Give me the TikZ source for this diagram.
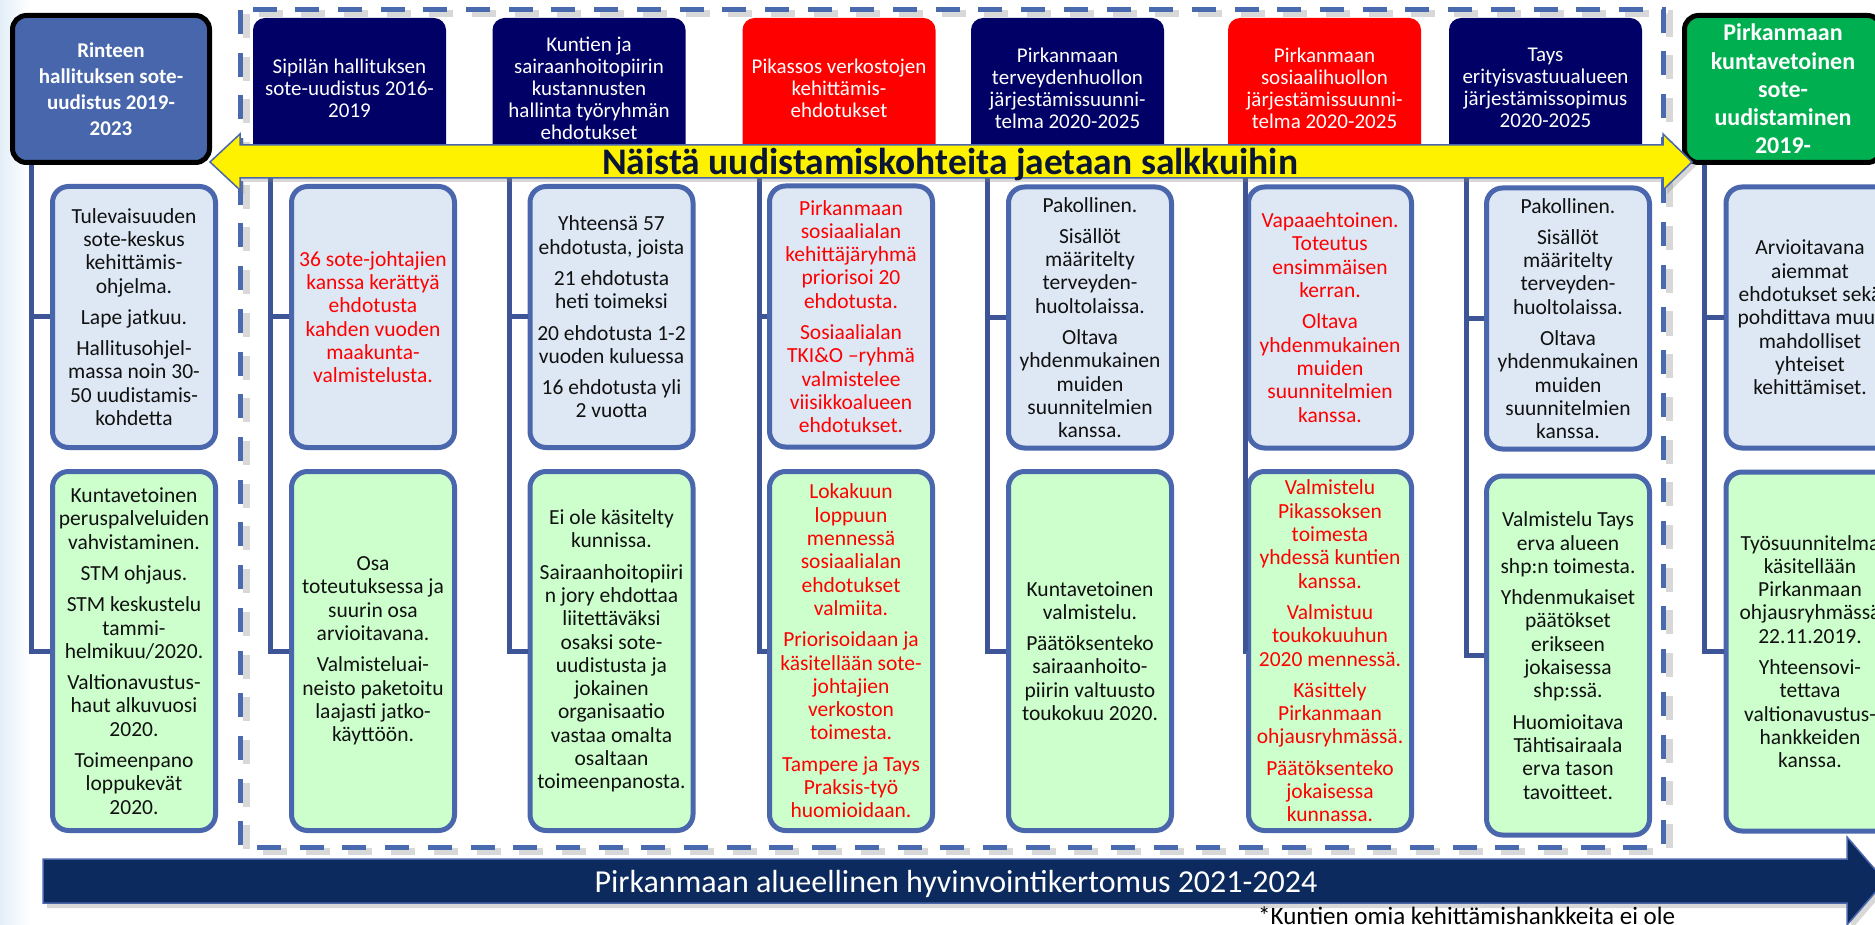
\documentclass[tikz,border=0pt]{standalone}
\usepackage{fontspec}
\setmainfont{Carlito}
\usetikzlibrary{calc}
\definecolor{navy}{HTML}{000066}
\definecolor{hblue}{HTML}{4866AC}
\definecolor{hgreen}{HTML}{00B050}
\definecolor{lblue}{HTML}{DDE8F4}
\definecolor{lgreen}{HTML}{CCFFCC}
\definecolor{bbord}{HTML}{4A66AC}
\definecolor{cline}{HTML}{3D5597}
\definecolor{dashc}{HTML}{4A6AB0}
\definecolor{botnavy}{HTML}{0C2A5E}
\definecolor{atext}{HTML}{0A1633}
\definecolor{txt}{HTML}{111111}
\definecolor{lbg}{HTML}{E4EEF8}
\begin{document}
\begin{tikzpicture}[x=1pt,y=-1pt,
  hdr/.style={fill=navy, rounded corners=12pt, text=white, minimum width=193pt, minimum height=140pt, align=center, inner sep=2pt, font=\fontsize{21}{22}\selectfont},
  hdrb/.style={draw=black, line width=5pt, rounded corners=14pt, text=white, align=center, inner sep=2pt, minimum width=197pt, minimum height=147pt, font=\bfseries\fontsize{21}{26}\selectfont},
  boxa/.style={draw=bbord, line width=5pt, fill=lblue, rounded corners=16pt, minimum width=163pt, minimum height=261pt, align=center, inner sep=2pt, text=txt, font=\fontsize{21.5}{23.3}\selectfont},
  boxb/.style={boxa, fill=lgreen, minimum height=359pt},
  redtxt/.style={text=red},
  conn/.style={draw=cline, line width=5pt},
  dashframe/.style={draw=dashc, line width=5pt, dash pattern=on 24pt off 18.7pt},
  dashshadow/.style={draw=gray, opacity=0.3, line width=7pt, dash pattern=on 24pt off 18.7pt}
]
\useasboundingbox (0,0) rectangle (1875,925);
\clip (0,0) rectangle (1875,925);
\fill[white] (0,0) rectangle (1875,925);
\shade[left color=lbg, right color=white] (0,0) rectangle (30,925);

% dashed frame
\draw[dashshadow] (246,14) rectangle (1669,851);
\draw[dashframe] (240,10) rectangle (1663,847);

% headers
\node[hdrb, fill=hblue] (h1) at (111,89) {Rinteen\\hallituksen sote-\\uudistus 2019-\\2023};
\node[hdr] (h2) at (349.5,88) {Sipilän hallituksen\\sote-uudistus 2016-\\2019};
\node[hdr] (h3) at (589,88) {Kuntien ja\\sairaanhoitopiirin\\kustannusten\\hallinta työryhmän\\ehdotukset};
\node[hdr, fill=red] (h4) at (839,88) {Pikassos verkostojen\\kehittämis-\\ehdotukset};
\node[hdr] (h5) at (1067.5,88) {Pirkanmaan\\terveydenhuollon\\järjestämissuunni-\\telma 2020-2025};
\node[hdr, fill=red] (h6) at (1324.5,88) {Pirkanmaan\\sosiaalihuollon\\järjestämissuunni-\\telma 2020-2025};
\node[hdr] (h7) at (1545.5,88) {Tays\\erityisvastuualueen\\järjestämissopimus\\2020-2025};
\node[hdrb, fill=hgreen, font=\bfseries\fontsize{24}{28.3}\selectfont] (h8) at (1783,89) {Pirkanmaan\\kuntavetoinen\\sote-\\uudistaminen\\2019-};

% line x positions
\coordinate (l1) at (31,0);
\coordinate (l2) at (270,0);
\coordinate (l3) at (509,0);
\coordinate (l4) at (759,0);
\coordinate (l5) at (987,0);
\coordinate (l6) at (1245,0);
\coordinate (l7) at (1466,0);
\coordinate (l8) at (1704,0);

% top boxes
\node[boxa] (a1) at (134,317) {Tulevaisuuden\\sote-keskus\\kehittämis-\\ohjelma.\\[8pt]Lape jatkuu.\\[8pt]Hallitusohjel-\\massa noin 30-\\50 uudistamis-\\kohdetta};
\node[boxa, redtxt] (a2) at (373,317) {36 sote-johtajien\\kanssa kerättyä\\ehdotusta\\kahden vuoden\\maakunta-\\valmistelusta.};
\node[boxa] (a3) at (611.5,317) {Yhteensä 57\\ehdotusta, joista\\[8pt]21 ehdotusta\\heti toimeksi\\[8pt]20 ehdotusta 1-2\\vuoden kuluessa\\[8pt]16 ehdotusta yli\\2 vuotta};
\node[boxa, redtxt] (a4) at (851,316.5) {Pirkanmaan\\sosiaalialan\\kehittäjäryhmä\\priorisoi 20\\ehdotusta.\\[8pt]Sosiaalialan\\TKI\&O –ryhmä\\valmistelee\\viisikkoalueen\\ehdotukset.};
\node[boxa] (a5) at (1090,317.5) {Pakollinen.\\[8pt]Sisällöt\\määritelty\\terveyden-\\huoltolaissa.\\[8pt]Oltava\\yhdenmukainen\\muiden\\suunnitelmien\\kanssa.};
\node[boxa, redtxt] (a6) at (1330,317.5) {Vapaaehtoinen.\\Toteutus\\ensimmäisen\\kerran.\\[8pt]Oltava\\yhdenmukainen\\muiden\\suunnitelmien\\kanssa.};
\node[boxa] (a7) at (1568,318.5) {Pakollinen.\\[8pt]Sisällöt\\määritelty\\terveyden-\\huoltolaissa.\\[8pt]Oltava\\yhdenmukainen\\muiden\\suunnitelmien\\kanssa.};
\node[boxa, minimum width=168pt] (a8) at (1810,317.5) {Arvioitavana\\aiemmat\\ehdotukset sekä\\pohdittava muut\\mahdolliset\\yhteiset\\kehittämiset.};

% connectors: header to top box
\foreach \i in {1,...,8}{
  \draw[conn] (h\i.south -| l\i) -- (a\i.west -| l\i) -- (a\i.west);
}

% bottom boxes
\node[boxb] (b1) at (134,651) {Kuntavetoinen\\peruspalveluiden\\vahvistaminen.\\[8pt]STM ohjaus.\\[8pt]STM keskustelu\\tammi-\\helmikuu/2020.\\[8pt]Valtionavustus-\\haut alkuvuosi\\2020.\\[8pt]Toimeenpano\\loppukevät\\2020.};
\node[boxb] (b2) at (373,651) {Osa\\toteutuksessa ja\\suurin osa\\arvioitavana.\\[8pt]Valmisteluai-\\neisto paketoitu\\laajasti jatko-\\käyttöön.};
\node[boxb] (b3) at (611.5,651) {Ei ole käsitelty\\kunnissa.\\[8pt]Sairaanhoitopiiri\\n jory ehdottaa\\liitettäväksi\\osaksi sote-\\uudistusta ja\\jokainen\\organisaatio\\vastaa omalta\\osaltaan\\toimeenpanosta.};
\node[boxb, redtxt] (b4) at (851,651) {Lokakuun\\loppuun\\mennessä\\sosiaalialan\\ehdotukset\\valmiita.\\[8pt]Priorisoidaan ja\\käsitellään sote-\\johtajien\\verkoston\\toimesta.\\[8pt]Tampere ja Tays\\Praksis-työ\\huomioidaan.};
\node[boxb] (b5) at (1090,651) {Kuntavetoinen\\valmistelu.\\[8pt]Päätöksenteko\\sairaanhoito-\\piirin valtuusto\\toukokuu 2020.};
\node[boxb, redtxt] (b6) at (1330,651) {Valmistelu\\Pikassoksen\\toimesta\\yhdessä kuntien\\kanssa.\\[8pt]Valmistuu\\toukokuuhun\\2020 mennessä.\\[8pt]Käsittely\\Pirkanmaan\\ohjausryhmässä.\\[8pt]Päätöksenteko\\jokaisessa\\kunnassa.};
\node[boxb] (b7) at (1568,655.5) {Valmistelu Tays\\erva alueen\\shp:n toimesta.\\[8pt]Yhdenmukaiset\\päätökset\\erikseen\\jokaisessa\\shp:ssä.\\[8pt]Huomioitava\\Tähtisairaala\\erva tason\\tavoitteet.};
\node[boxb, minimum width=168pt] (b8) at (1810,651.5) {Työsuunnitelma\\käsitellään\\Pirkanmaan\\ohjausryhmässä\\22.11.2019.\\[8pt]Yhteensovi-\\tettava\\valtionavustus-\\hankkeiden\\kanssa.};

% connectors: down to bottom box
\foreach \i in {1,...,8}{
  \draw[conn] (a\i.west -| l\i) |- (b\i.west);
}

% yellow double arrow
\fill[gray, opacity=0.3] (214,166) -- (244,138) -- (244,149) -- (1667,149) -- (1667,138) -- (1696,166) -- (1667,194) -- (1667,182) -- (244,182) -- (244,194) -- cycle;
\draw[fill=yellow, draw=bbord, line width=1.5pt] (210,162) -- (240,134) -- (240,145) -- (1663,145) -- (1663,134) -- (1692,162) -- (1663,190) -- (1663,178) -- (240,178) -- (240,190) -- cycle;
\node[anchor=base, font=\bfseries\fontsize{37.5}{40}\selectfont, text=atext, inner sep=0pt] (yt) at (950,175) {Näistä uudistamiskohteita jaetaan salkkuihin};

% bottom arrow
\fill[gray, opacity=0.3] (47,864) -- (1851,864) -- (1851,842) -- (1889,886) -- (1851,930) -- (1851,908) -- (47,908) -- cycle;
\draw[fill=botnavy, draw=bbord, line width=1.5pt] (43,859) -- (1847,859) -- (1847,837) -- (1885,881) -- (1847,925) -- (1847,903) -- (43,903) -- cycle;
\node[anchor=base, font=\fontsize{32}{36}\selectfont, text=white, inner sep=0pt] (bt) at (956,892) {Pirkanmaan alueellinen hyvinvointikertomus 2021-2024};

% footnote
\node[anchor=base west, font=\fontsize{25}{28}\selectfont, text=black, inner sep=0pt] (fn) at (1258,924) {*Kuntien omia kehittämishankkeita ei ole};
\end{tikzpicture}
\end{document}
